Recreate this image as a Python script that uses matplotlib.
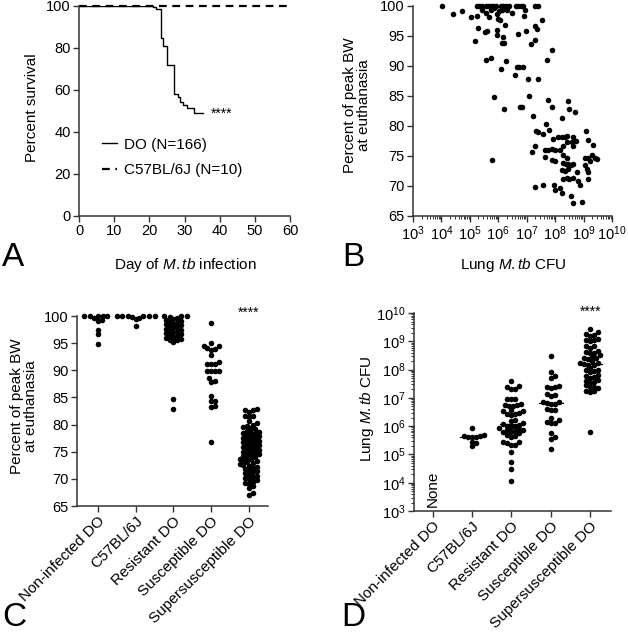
import numpy as np
import matplotlib
matplotlib.use("Agg")
import matplotlib.pyplot as plt
from matplotlib.ticker import LogLocator, NullFormatter, MultipleLocator

plt.rcParams['font.family'] = ['Liberation Sans', 'DejaVu Sans']
plt.rcParams['mathtext.fontset'] = 'custom'
plt.rcParams['mathtext.rm'] = 'Liberation Sans'
plt.rcParams['mathtext.it'] = 'Liberation Sans:italic'
plt.rcParams['mathtext.default'] = 'regular'

# ---- Panel A: survival ----
do_days = [0, 20.9, 22.0, 23.2, 24.0, 25.0, 26.9, 28.2, 28.8, 29.7, 30.8, 32.6, 35.2]
do_surv = [100, 99.4, 98.4, 84.6, 81.0, 71.7, 58.0, 56.7, 54.4, 53.0, 51.2, 48.9, 48.9]
b6_days = [0, 60]
b6_surv = [100, 100]

# ---- Panel B: lung CFU (log10) vs % peak body weight ----
b_log_cfu = [4.01, 5.24, 5.32, 5.42, 5.57, 5.65, 5.73, 5.83, 5.91, 6.08, 6.18, 6.27, 6.39,
             6.62, 6.70, 6.79, 6.86, 7.29, 7.41,
             4.42, 4.71, 5.04, 5.26, 5.42, 5.57, 5.68, 5.73, 5.85, 5.97, 6.04, 6.00, 6.06,
             6.12, 6.30, 6.47, 6.24, 5.30, 5.53, 5.61, 5.94, 5.94, 6.15, 6.14, 6.20, 5.18,
             6.68, 6.94, 6.90, 6.97, 7.29, 7.37, 7.55, 7.14, 7.29, 7.88, 5.57, 5.73, 6.10,
             6.27, 6.65, 6.74, 6.88, 6.59, 7.03, 7.39, 7.70, 5.85, 7.09, 7.76, 8.46, 6.20,
             6.76, 6.82, 7.88, 8.50, 8.23, 8.70, 7.21, 7.68, 7.33, 7.41, 7.56, 7.80, 7.94,
             8.11, 8.23, 8.35, 8.43, 8.64, 9.08, 9.17, 9.32, 7.29, 7.18, 7.64, 7.76, 7.88,
             7.99, 8.17, 8.29, 8.41, 8.58, 8.72, 8.64, 7.64, 7.88, 7.99, 8.29, 8.41, 8.29,
             8.38, 8.46, 8.55, 8.64, 8.23, 8.35, 8.46, 8.76, 8.29, 8.41, 8.50, 8.64, 8.82,
             8.88, 7.96, 7.99, 8.17, 8.23, 7.58, 7.29, 8.55, 8.64, 8.93, 9.05, 9.17, 9.05,
             9.11, 9.17, 9.17, 9.29, 9.40, 9.46, 9.23, 5.77]
b_weight = [100, 100, 100, 100, 100, 100, 100, 100, 100, 100, 100, 100, 100,
            100, 100, 100, 100, 100, 100,
            98.6, 99.2, 98.2, 98.4, 99.4, 98.8, 98.1, 99.3, 99.6, 98.6, 99.1, 97.9, 97.6,
            99.4, 99.4, 98.8, 96.8, 96.4, 95.6, 95.8, 96.0, 95.2, 94.9, 93.8, 93.9, 94.1,
            95.3, 99.3, 98.3, 95.8, 96.7, 96.2, 97.6, 93.7, 94.3, 92.7, 91.0, 91.4, 89.5,
            90.9, 89.9, 89.9, 89.9, 88.5, 87.9, 87.8, 91.0, 84.8, 85.0, 84.3, 84.2, 82.8,
            83.2, 83.1, 83.1, 82.8, 81.4, 82.3, 81.6, 80.3, 79.2, 79.0, 78.7, 79.3, 77.9,
            78.2, 78.2, 78.2, 78.3, 78.2, 79.1, 77.7, 76.8, 76.7, 75.6, 76.0, 76.0, 76.2,
            76.0, 76.0, 76.7, 77.3, 77.3, 77.5, 76.6, 74.8, 74.4, 74.2, 75.2, 74.7, 73.8,
            73.6, 73.7, 73.5, 73.6, 72.7, 72.5, 72.8, 72.4, 71.2, 71.3, 71.1, 71.4, 70.8,
            70.2, 70.2, 69.4, 69.7, 68.9, 70.2, 69.8, 68.4, 67.1, 67.4, 74.6, 74.6, 73.5,
            72.9, 72.4, 71.2, 75.2, 74.7, 74.5, 74.1, 74.4]

# ---- Panels C and D: groups ----
groups = ["Non-infected DO", "C57BL/6J", "Resistant DO", "Susceptible DO", "Supersusceptible DO"]

noninf_bw = [100, 100, 100, 100, 100, 99.6, 99.3, 99.0, 97.5, 96.6, 94.9]
b6_bw = [100, 100, 100, 100, 100, 100, 99.8, 99.6, 99.4, 98.1]
resist_bw = [100, 100, 100, 99.8, 99.6, 99.5, 99.3, 99.1, 99.0, 98.8, 98.6, 98.5, 98.3,
             98.1, 98.0, 97.8, 97.6, 97.5, 97.3, 97.1, 97.0, 96.8, 96.6, 96.5, 96.3, 96.1,
             96.0, 95.8, 95.6, 95.5, 95.3, 84.8, 82.8]
susc_bw = [98.8, 94.5, 93.9, 95.0, 94.1, 94.4, 93.8, 92.9, 91.6, 91.2, 91.2, 91.2, 89.9,
           89.9, 89.9, 89.9, 88.1, 87.9, 88.6, 84.4, 85.2, 84.3, 83.5, 83.2, 76.7]
super_bw = [82.9, 82.6, 82.6, 82.3, 81.6, 81.5, 81.4, 80.6, 80.2, 80.0, 79.8, 79.5, 79.3,
            79.1, 78.9, 78.7, 78.5, 78.4, 78.2, 78.0, 77.9, 77.7, 77.5, 77.4, 77.2, 77.0,
            76.9, 76.7, 76.5, 76.4, 76.2, 76.0, 75.9, 75.7, 75.5, 75.4, 75.2, 75.0, 74.9,
            74.7, 74.6, 74.4, 74.2, 74.1, 73.9, 73.7, 73.6, 73.4, 73.2, 73.1, 72.9, 72.7,
            72.5, 72.4, 72.2, 72.0, 71.8, 71.6, 71.4, 71.2, 71.0, 70.8, 70.6, 70.4, 70.2,
            70.0, 69.8, 69.5, 69.3, 69.1, 68.7, 68.3, 67.4, 67.1]

noninf_cfu = []
b6_cfu = [5.95, 5.68, 5.66, 5.64, 5.63, 5.62, 5.60, 5.45, 5.40, 5.30]
resist_cfu = [7.60, 7.43, 7.40, 7.31, 7.31, 6.96, 6.96, 6.96, 6.78, 6.75, 6.72, 6.74, 6.70,
              6.56, 6.54, 6.52, 6.45, 6.43, 6.42, 6.40, 6.22, 6.18, 6.12, 6.08, 6.05, 6.02,
              6.00, 5.98, 5.92, 5.90, 5.87, 5.85, 5.83, 5.80, 5.78, 5.75, 5.70, 5.66, 5.62,
              5.45, 5.43, 5.41, 5.34, 5.32, 5.07, 4.74, 4.47, 4.06]
susc_cfu = [8.48, 7.90, 7.79, 7.72, 7.42, 7.38, 7.36, 7.40, 7.10, 7.12, 7.08, 6.84, 6.78,
            6.86, 6.80, 6.82, 6.60, 6.58, 6.56, 6.30, 6.21, 6.15, 6.11, 6.11, 5.76, 5.60,
            5.56, 5.21]
super_cfu = [9.45, 9.32, 9.26, 9.22, 9.18, 9.08, 9.05, 9.03, 9.00, 8.85, 8.82, 8.78, 8.65,
             8.62, 8.60, 8.58, 8.50, 8.45, 8.42, 8.40, 8.38, 8.30, 8.25, 8.22, 8.20, 8.18,
             8.15, 8.05, 8.00, 7.97, 7.95, 7.90, 7.80, 7.77, 7.75, 7.72, 7.65, 7.60, 7.57,
             7.54, 7.45, 7.40, 7.38, 7.35, 7.25, 7.23, 7.21, 5.80]

bw_groups = [noninf_bw, b6_bw, resist_bw, susc_bw, super_bw]
cfu_groups = [noninf_cfu, b6_cfu, resist_cfu, susc_cfu, super_cfu]

AX_COLOR = '#333333'
TICK_FS = 10.5
DOT_S = 16


def style_axes(ax):
    for side in ['top', 'right']:
        ax.spines[side].set_visible(False)
    for side in ['left', 'bottom']:
        ax.spines[side].set_color(AX_COLOR)
        ax.spines[side].set_linewidth(1.1)
    ax.tick_params(direction='out', length=4, width=1, colors=AX_COLOR,
                   labelcolor='black', labelsize=TICK_FS, pad=2)
    ax.tick_params(which='minor', length=2, width=0.7, colors=AX_COLOR)


def swarm_x(ax, center, values, diameter=4.0):
    # simple beeswarm in display space
    if len(values) == 0:
        return np.array([])
    disp = ax.transData.transform(np.column_stack([np.full(len(values), center), values]))
    y = disp[:, 1]
    x0 = disp[0, 0]
    offs = np.zeros(len(values))
    placed = []
    step = diameter * 0.5
    for i in np.argsort(y):
        for k in range(300):
            cands = [0.0] if k == 0 else [k * step, -k * step]
            ok = None
            for c in cands:
                if all((c - px) ** 2 + (y[i] - py) ** 2 >= diameter ** 2 for px, py in placed):
                    ok = c
                    break
            if ok is not None:
                offs[i] = ok
                break
        placed.append((offs[i], y[i]))
    back = ax.transData.inverted().transform(np.column_stack([x0 + offs, y]))
    return back[:, 0]


fig = plt.figure(figsize=(6.28, 6.36), dpi=100)

# ---------------- A ----------------
axA = fig.add_axes([0.1258, 0.6604, 0.3360, 0.3302])
style_axes(axA)
axA.step(do_days, do_surv, where='post', color='black', lw=1.0, label='DO (N=166)')
axA.plot(b6_days, b6_surv, color='black', lw=1.6, ls=(0, (3.5, 2.5)),
         label='C57BL/6J (N=10)', clip_on=False)
axA.set_xlim(0, 60)
axA.set_ylim(0, 100)
axA.xaxis.set_major_locator(MultipleLocator(10))
axA.yaxis.set_major_locator(MultipleLocator(20))
axA.text(37.5, 48.9, '****', fontsize=10, va='center', ha='left')
axA.legend(loc='lower left', bbox_to_anchor=(0.045, 0.12), frameon=False, fontsize=11,
           handlelength=0.95, handletextpad=0.45, labelspacing=0.75)

# ---------------- B ----------------
axB = fig.add_axes([0.6576, 0.6604, 0.3169, 0.3302])
style_axes(axB)
axB.set_xscale('log')
axB.scatter(np.power(10.0, b_log_cfu), b_weight, s=DOT_S, color='black', linewidths=0,
            clip_on=False, zorder=3)
axB.set_xlim(1e3, 1e10)
axB.set_ylim(65, 100)
axB.yaxis.set_major_locator(MultipleLocator(5))
axB.xaxis.set_major_locator(LogLocator(base=10, numticks=20))
axB.xaxis.set_minor_locator(LogLocator(base=10, subs=np.arange(2, 10), numticks=20))
axB.xaxis.set_minor_formatter(NullFormatter())

# ---------------- C ----------------
axC = fig.add_axes([0.1226, 0.2044, 0.3041, 0.2987])
style_axes(axC)
axC.set_xlim(-0.55, 4.5)
axC.set_ylim(65, 100)
axC.yaxis.set_major_locator(MultipleLocator(5))
for i, vals in enumerate(bw_groups):
    xs = swarm_x(axC, i, vals, diameter=3.8)
    axC.scatter(xs, vals, s=DOT_S, color='black', linewidths=0, clip_on=False, zorder=3)
axC.set_xticks(range(len(groups)))
axC.set_xticklabels(groups, rotation=45, ha='right', rotation_mode='anchor', fontsize=11)
axC.text(4, 100.6, '****', fontsize=10, ha='center', va='center')

# ---------------- D ----------------
axD = fig.add_axes([0.6592, 0.1965, 0.3137, 0.3113])
style_axes(axD)
axD.set_yscale('log')
axD.set_xlim(-0.48, 4.53)
axD.set_ylim(1e3, 1e10)
axD.yaxis.set_major_locator(LogLocator(base=10, numticks=20))
axD.yaxis.set_minor_locator(LogLocator(base=10, subs=np.arange(2, 10), numticks=20))
axD.yaxis.set_minor_formatter(NullFormatter())
for i, vals in enumerate(cfu_groups):
    if len(vals) == 0:
        continue
    cfu = np.power(10.0, vals)
    xs = swarm_x(axD, i, cfu, diameter=4.0)
    axD.scatter(xs, cfu, s=DOT_S, color='black', linewidths=0, clip_on=False, zorder=3)
    axD.plot([i - 0.3, i + 0.3], [np.median(cfu)] * 2, color='black', lw=0.8, zorder=2)
axD.set_xticks(range(len(groups)))
axD.set_xticklabels(groups, rotation=45, ha='right', rotation_mode='anchor', fontsize=11)
axD.text(0, 1.35e3, 'None', rotation=90, fontsize=11, ha='center', va='bottom')
axD.text(4, 1.1e10, '****', fontsize=10, ha='center', va='center')

# ---------------- axis titles ----------------
fig.text(0.2946, 0.5833, 'Day of $\\it{M.tb}$ infection', fontsize=11, ha='center', va='center')
fig.text(0.8169, 0.5833, 'Lung $\\it{M.tb}$ CFU', fontsize=11, ha='center', va='center')
fig.text(0.051, 0.830, 'Percent survival', fontsize=11, rotation=90, ha='center', va='center')
fig.text(0.5685, 0.835, 'Percent of peak BW\nat euthanasia', fontsize=11, rotation=90,
         ha='center', va='center', linespacing=1.0)
fig.text(0.038, 0.362, 'Percent of peak BW\nat euthanasia', fontsize=11, rotation=90,
         ha='center', va='center', linespacing=1.0)
fig.text(0.584, 0.358, 'Lung $\\it{M.tb}$ CFU', fontsize=11, rotation=90, ha='center',
         va='center')

# ---------------- panel letters ----------------
for lab, x, y in [('A', 0.003, 0.571), ('B', 0.5446, 0.571), ('C', 0.003, 0.005), ('D', 0.543, 0.005)]:
    fig.text(x, y, lab, fontsize=24, ha='left', va='bottom')

fig.savefig('out.png', dpi=100)
